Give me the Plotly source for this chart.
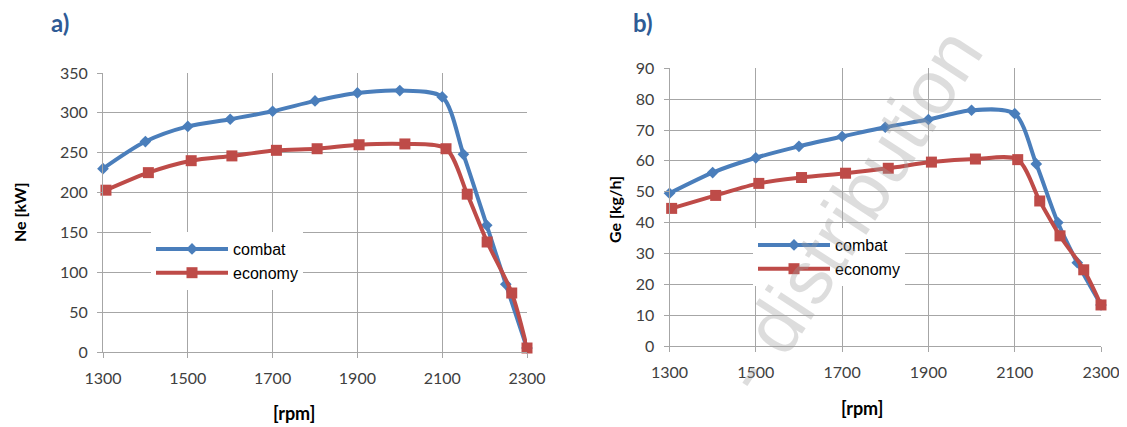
import plotly.graph_objects as go

# ---------------- data ----------------
rpm_combat_a = [1300, 1400, 1500, 1600, 1700, 1800, 1900, 2000, 2100, 2150, 2205, 2250, 2300]
ne_combat = [230, 264, 283, 292, 302, 315, 325, 328, 320, 248, 159, 85, 5]
rpm_econ_a = [1307, 1407, 1508, 1604, 1709, 1805, 1904, 2012, 2109, 2159, 2206, 2264, 2300]
ne_economy = [203, 225, 240, 246, 253, 255, 260, 261, 255, 198, 138, 74, 5]

rpm_combat_b = [1300, 1400, 1500, 1600, 1700, 1800, 1900, 2000, 2100, 2150, 2200, 2245, 2300]
ge_combat = [49.5, 56.2, 61, 64.7, 67.9, 70.9, 73.4, 76.4, 75.3, 59, 40, 27, 13.3]
rpm_econ_b = [1305, 1407, 1507, 1606, 1708, 1807, 1907, 2009, 2107, 2158, 2205, 2260, 2300]
ge_economy = [44.6, 48.8, 52.7, 54.6, 56, 57.6, 59.6, 60.6, 60.4, 47, 35.7, 24.7, 13.3]

x_ticks = [1300, 1500, 1700, 1900, 2100, 2300]
series_names = ["combat", "economy"]
panel_labels = ["a)", "b)"]
y_titles = ["Ne [kW]", "Ge [kg/h]"]
x_title = "[rpm]"
watermark = "- distribution"

BLUE = "#4A7EBB"
RED = "#BE4B48"
GRID = "#A6A6A6"
OFF = 8                      # page body margin of the html page
W, H = 1127 - OFF, 427 - OFF


def px(x):
    return (x - OFF) / W


def py(y):
    return 1 - (y - OFF) / H


fig = go.Figure()


def add_pair(xc, yc, xe, ye, xa, ya, legend):
    fig.add_trace(go.Scatter(
        x=xc, y=yc, name=series_names[0], mode="lines+markers",
        line=dict(color=BLUE, width=4, shape="spline", smoothing=0.8),
        marker=dict(symbol="diamond", size=9, color=BLUE),
        xaxis=xa, yaxis=ya, legend=legend, cliponaxis=False))
    fig.add_trace(go.Scatter(
        x=xe, y=ye, name=series_names[1], mode="lines+markers",
        line=dict(color=RED, width=4, shape="spline", smoothing=0.8),
        marker=dict(symbol="square", size=11, color=RED),
        xaxis=xa, yaxis=ya, legend=legend, cliponaxis=False))


add_pair(rpm_combat_a, ne_combat, rpm_econ_a, ne_economy, "x", "y", "legend")
add_pair(rpm_combat_b, ge_combat, rpm_econ_b, ge_economy, "x2", "y2", "legend2")

tickfont = dict(family="Lato, Carlito, sans-serif", size=16, color="#404040")

xaxis_common = dict(
    range=[1300, 2300], tickvals=x_ticks, showgrid=True, gridcolor=GRID, gridwidth=1,
    showline=True, linecolor=GRID, linewidth=1, ticks="outside", ticklen=5, tickcolor=GRID,
    tickfont=tickfont, zeroline=False, ticklabelstandoff=7, fixedrange=True, automargin=False)
yaxis_common = dict(
    showgrid=True, gridcolor=GRID, gridwidth=1,
    showline=True, linecolor=GRID, linewidth=1, ticks="outside", ticklen=5, tickcolor=GRID,
    tickfont=tickfont, zeroline=False, ticklabelstandoff=6, fixedrange=True, automargin=False)

legend_font = dict(family="Liberation Sans, Arial, sans-serif", size=16, color="black")

fig.update_layout(
    width=W, height=H, margin=dict(l=0, r=0, t=0, b=0, autoexpand=False),
    paper_bgcolor="white", plot_bgcolor="white",
    xaxis=dict(domain=[px(103), px(527)], anchor="y", **xaxis_common),
    yaxis=dict(domain=[py(352), py(73)], anchor="x", range=[0, 350], dtick=50, **yaxis_common),
    xaxis2=dict(domain=[px(669.5), px(1101)], anchor="y2", **xaxis_common),
    yaxis2=dict(domain=[py(346), py(68.3)], anchor="x2", range=[0, 90], dtick=10, **yaxis_common),
    legend=dict(x=px(151), y=py(232), xanchor="left", yanchor="top", bgcolor="white",
                font=legend_font, itemwidth=72, tracegroupgap=0),
    legend2=dict(x=px(753), y=py(228), xanchor="left", yanchor="top", bgcolor="white",
                 font=legend_font, itemwidth=72, tracegroupgap=0),
    showlegend=True,
)

ann = []
# panel labels
for lbl, x in zip(panel_labels, [60, 643]):
    ann.append(dict(text=f"<b>{lbl}</b>", x=px(x), y=py(22), xref="paper", yref="paper",
                    xanchor="center", yanchor="middle", showarrow=False,
                    font=dict(family="Lato, Carlito, sans-serif", size=24, color="#2F5B95")))
# y titles
for t, x, y in zip(y_titles, [19, 614], [212, 210]):
    ann.append(dict(text=f"<b>{t}</b>", x=px(x), y=py(y), xref="paper", yref="paper",
                    xanchor="center", yanchor="middle", showarrow=False, textangle=-90,
                    font=dict(family="Lato, Carlito, sans-serif", size=16, color="black")))
# x titles
for x, y in zip([294, 862], [413, 408]):
    ann.append(dict(text=f"<b>{x_title}</b>", x=px(x), y=py(y), xref="paper", yref="paper",
                    xanchor="center", yanchor="middle", showarrow=False,
                    font=dict(family="Lato, Carlito, sans-serif", size=18, color="black")))
# watermark
wm_font = dict(family="Liberation Sans, Arial, sans-serif", size=76, color="#A0A0A0")
ann.append(dict(text=watermark, x=px(850), y=py(210), xref="paper", yref="paper",
                xanchor="center", yanchor="middle", showarrow=False, textangle=-57,
                opacity=0.35, font=wm_font))
fig.update_layout(annotations=ann)

fig.write_html("out.html")
